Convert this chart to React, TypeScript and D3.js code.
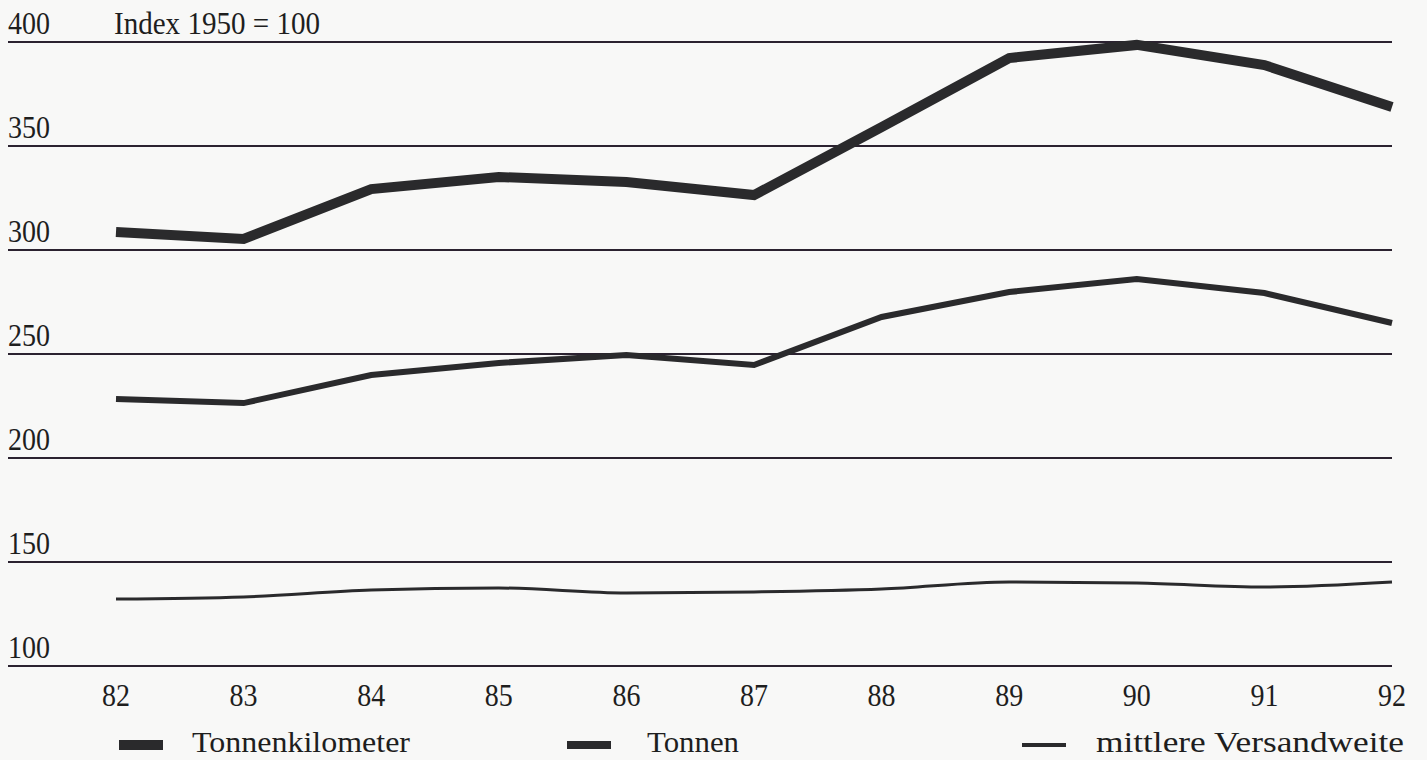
import { useEffect, useRef } from "react";
import * as d3 from "d3";

const years = [82, 83, 84, 85, 86, 87, 88, 89, 90, 91, 92];
const tonnenkilometer = [308.7, 305.3, 329.3, 335.1, 332.7, 326.4, 359.1, 392.3, 398.6, 388.9, 368.8];
const tonnen = [228.4, 226.4, 239.9, 245.7, 249.5, 244.7, 267.8, 279.8, 286.1, 279.3, 264.9];
const versandweite = [132.2, 133.2, 136.5, 137.5, 135.1, 135.6, 137.0, 140.4, 139.9, 138.0, 140.4];
const yTicks = [100, 150, 200, 250, 300, 350, 400];

const seriesNames = ["Tonnenkilometer", "Tonnen", "mittlere Versandweite"];
const legendWidths = [218, 92, 308];

const App = () => {
    const chartRef = useRef<SVGSVGElement | null>(null);

    useEffect(() => {
        if (!chartRef.current) return;
        const svg = d3.select(chartRef.current);
        svg.selectAll("*").remove();

        const width = 1427;
        const height = 760;
        const font = "'Liberation Serif', 'Times New Roman', serif";
        const ink = "#2a2a2c";
        const textInk = "#1e1e1e";

        svg.append("rect").attr("width", width).attr("height", height).attr("fill", "#f8f8f7");

        const x = d3.scaleLinear().domain([82, 92]).range([116, 1392]);
        const y = d3.scaleLinear().domain([100, 400]).range([666, 42]);

        // text is slightly taller than wide in the scan
        const label = (
            g: d3.Selection<SVGGElement, unknown, null, undefined>,
            tx: number,
            ty: number,
            txt: string,
            anchor = "start",
            size = 28,
            sy = 1.14
        ) =>
            g.append("text")
                .attr("transform", `translate(${tx},${ty}) scale(1,${sy})`)
                .attr("text-anchor", anchor)
                .attr("font-family", font)
                .attr("font-size", size)
                .attr("fill", textInk)
                .text(txt);

        // gridlines + labels
        const grid = svg.append("g");
        grid.selectAll("line")
            .data(yTicks)
            .enter()
            .append("line")
            .attr("x1", 8)
            .attr("x2", 1392)
            .attr("y1", (d) => y(d))
            .attr("y2", (d) => y(d))
            .attr("stroke", "#2b2230")
            .attr("stroke-width", 2);

        yTicks.forEach((t) => label(grid, 8, y(t) - 8, String(t)));
        label(grid, 114, y(400) - 8, "Index 1950 = 100").attr("textLength", 206).attr("lengthAdjust", "spacingAndGlyphs");

        // x labels
        const xAxis = svg.append("g");
        years.forEach((yr) => label(xAxis, x(yr), 706, String(yr), "middle"));

        const line = d3
            .line<number>()
            .x((_, i) => x(years[i]))
            .y((d) => y(d));

        const series = [
            { values: tonnenkilometer, w: 10, curve: d3.curveLinear },
            { values: tonnen, w: 6, curve: d3.curveLinear },
            { values: versandweite, w: 3, curve: d3.curveMonotoneX },
        ];

        series.forEach((s) => {
            svg.append("path")
                .attr("d", line.curve(s.curve)(s.values)!)
                .attr("fill", "none")
                .attr("stroke", ink)
                .attr("stroke-width", s.w)
                .attr("stroke-linejoin", "miter");
        });

        // legend
        const legendX = [119, 567, 1022];
        const legendOffset = [73, 80, 74];
        const swatchH = [10, 8, 4];
        const legend = svg.append("g");
        seriesNames.forEach((name, i) => {
            legend.append("rect")
                .attr("x", legendX[i])
                .attr("y", 745 - swatchH[i] / 2)
                .attr("width", 44)
                .attr("height", swatchH[i])
                .attr("fill", ink);
            label(legend, legendX[i] + legendOffset[i], 752, name, "start", 28, 1.05)
                .attr("textLength", legendWidths[i])
                .attr("lengthAdjust", "spacingAndGlyphs");
        });
    }, []);

    return (
        <div style={{ position: "absolute", left: 0, top: 0 }}>
            <svg ref={chartRef} width={1427} height={760} style={{ display: "block" }}></svg>
        </div>
    );
};

export default App;
